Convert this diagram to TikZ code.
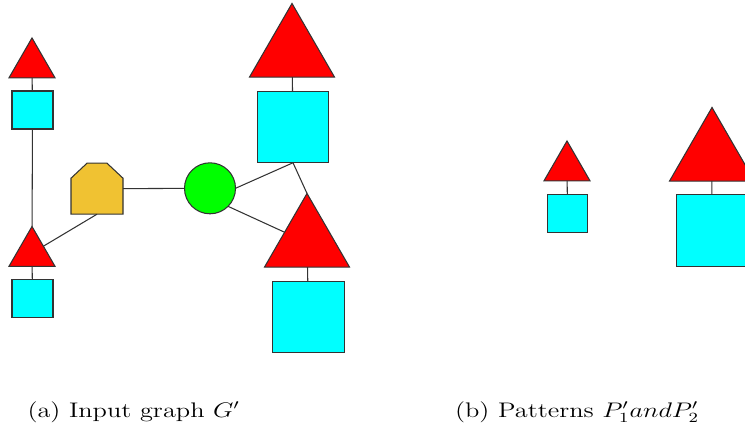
\documentclass[tikz,border=0pt]{standalone}
\usepackage{xcolor}
\usepackage{graphicx}
\usepackage{tikz}
\usetikzlibrary{calc,shapes.geometric}
\definecolor{tri}{HTML}{FF0000}
\definecolor{sqr}{HTML}{00FFFF}
\definecolor{hse}{HTML}{F0C232}
\definecolor{crc}{HTML}{00FF00}
\newcommand{\widetxt}[1]{\scalebox{1.25}[1]{#1}}

\begin{document}
\begin{tikzpicture}[
  line width=0.6pt,
  every node/.append style={inner sep=0pt, outer sep=0pt},
  tr/.style={regular polygon, regular polygon sides=3, draw=black!80, fill=tri,
             minimum size=#1},
  tr/.default=1.062cm,
  sq/.style={rectangle, draw=black!80, fill=sqr, minimum width=#1, minimum height=#1},
  sq/.default=0.78cm,
  house/.style={draw=black!80, fill=hse},
  con/.style={draw=black!80},
  captxt/.style={font=\fontsize{12}{14}\selectfont, anchor=base west}]
\useasboundingbox (0,0) rectangle (14.9,-8.54);
\clip (0,0) rectangle (14.9,-8.54);
% (a) input graph
\node[tr] (t1) at (0.64, -1.29) {};
\node[sq, minimum width=0.82cm, minimum height=0.76cm] (s1) at (0.65, -2.20) {};
\node[tr] (t2) at (0.64, -5.06) {};
\node[sq, minimum width=0.82cm, minimum height=0.76cm] (s2) at (0.65, -5.966) {};
\node[minimum width=1.04cm, minimum height=1.02cm] (hs) at (1.94, -3.774) {};
\draw[house] (hs.south west) -- ($(hs.north west)+(0,-0.30)$)
  -- ($(hs.north west)+(0.32,0)$) -- ($(hs.north east)+(-0.32,0)$)
  -- ($(hs.north east)+(0,-0.30)$) -- (hs.south east) -- cycle;
\node[circle, draw=black!80, fill=crc, minimum size=1.02cm] (cg) at (4.20, -3.766) {};
\node[tr=1.962cm] (t3) at (5.84, -1.05) {};
\node[sq=1.43cm] (s3) at (5.86, -2.54) {};
\node[tr=1.962cm] (t4) at (6.14, -4.85) {};
\node[sq=1.43cm] (s4) at (6.17, -6.336) {};
\foreach \a/\b in {t1/s1, s1/t2, t2/s2, t3/s3, t4/s4} \draw[con] (\a) -- (\b);
\draw[con] (hs.south) -- (t2);
\draw[con] (hs) -- (cg);
\draw[con] (cg.east) -- (s3.south);
\draw[con] (s3.south) -- (t4.corner 1);
\draw[con] (cg.-45) -- (t4);
% (b) patterns
\node[tr] (p1t) at (11.34, -3.35) {};
\node[sq, minimum width=0.80cm, minimum height=0.76cm] (p1s) at (11.35, -4.266) {};
\node[tr=1.962cm] (p2t) at (14.24, -3.13) {};
\node[sq=1.43cm] (p2s) at (14.236, -4.606) {};
\draw[con] (p1t) -- (p1s);
\draw[con] (p2t) -- (p2s);
% captions
\node[captxt] (capa) at (0.55, -8.34) {\widetxt{(a) Input graph $G'$}};
\node[captxt] (capb) at (9.10, -8.34) {\widetxt{(b) Patterns $P'_1 and P'_2$}};
\end{tikzpicture}
\end{document}
